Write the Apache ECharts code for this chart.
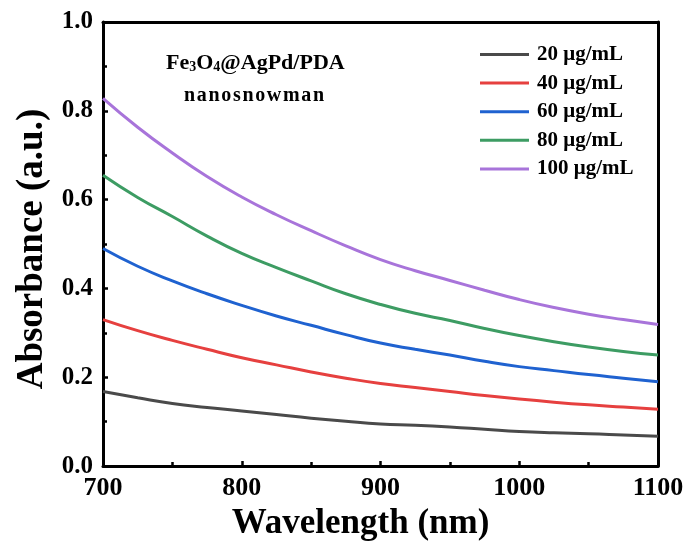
<!DOCTYPE html>
<html>
<head>
<meta charset="utf-8">
<script src="https://cdn.jsdelivr.net/npm/echarts@6/dist/echarts.min.js"></script>
<style>
html, body { margin: 0; padding: 0; background: #fff; }
#chart { width: 691px; height: 546px; }
</style>
</head>
<body>
<div id="chart"></div>
<script>
// 波长 (nm)
var wavelengths = [700, 725, 750, 775, 800, 825, 850, 875, 900, 925, 950, 975, 1000, 1025, 1050, 1075, 1100];
// 各浓度吸光度
var abs20 = [0.168, 0.154, 0.141, 0.132, 0.124, 0.116, 0.108, 0.101, 0.095, 0.092, 0.088, 0.083, 0.078, 0.075, 0.073, 0.070, 0.067];
var abs40 = [0.330, 0.305, 0.283, 0.263, 0.244, 0.228, 0.212, 0.198, 0.186, 0.177, 0.168, 0.159, 0.151, 0.144, 0.138, 0.133, 0.128];
var abs60 = [0.490, 0.450, 0.417, 0.388, 0.362, 0.338, 0.317, 0.296, 0.277, 0.263, 0.250, 0.236, 0.224, 0.215, 0.206, 0.198, 0.190];
var abs80 = [0.655, 0.605, 0.562, 0.518, 0.479, 0.447, 0.417, 0.388, 0.364, 0.344, 0.328, 0.310, 0.294, 0.280, 0.268, 0.258, 0.250];
var abs100 = [0.828, 0.763, 0.705, 0.652, 0.606, 0.566, 0.530, 0.496, 0.465, 0.440, 0.418, 0.396, 0.375, 0.357, 0.342, 0.330, 0.319];
var seriesNames = ['20 μg/mL', '40 μg/mL', '60 μg/mL', '80 μg/mL', '100 μg/mL'];
var seriesColors = ['#4a4a4a', '#e6403f', '#1f62d0', '#3d9c63', '#a874da'];

var FONT = '"Liberation Serif", "Times New Roman", serif';

function pairs(vals) {
    return wavelengths.map(function (w, i) { return [w, vals[i]]; });
}

var myChart = echarts.init(document.getElementById('chart'));
var allData = [abs20, abs40, abs60, abs80, abs100];

var option = {
    animation: false,
    backgroundColor: '#fff',
    grid: { left: 103, right: 33, top: 22, bottom: 76 },
    legend: {
        orient: 'vertical',
        left: 475,
        top: 38,
        icon: 'rect',
        itemWidth: 49,
        itemHeight: 3,
        itemGap: 5.6,
        textStyle: { fontFamily: FONT, fontWeight: 'bold', fontSize: 21, color: '#000', lineHeight: 23, padding: [0, 0, 0, 3] },
        data: seriesNames
    },
    graphic: [{
        type: 'text',
        left: 166,
        top: 52,
        style: {
            text: 'Fe{sub|3}O{sub|4}@AgPd/PDA',
            font: 'bold 22px ' + FONT,
            fill: '#000',
            rich: {
                sub: { fontSize: 14, fontWeight: 'bold', fontFamily: FONT, verticalAlign: 'bottom', padding: [9, 0, 0, 0] }
            }
        }
    }, {
        type: 'text',
        left: 184,
        top: 86,
        style: {
            // 原图字母间距较宽
            text: 'n a n o s n o w m a n'.replace(/ /g, '\u200a'),
            font: 'bold 20px ' + FONT,
            fill: '#000'
        }
    }],
    xAxis: [{
        type: 'value',
        min: 700,
        max: 1100,
        interval: 100,
        name: 'Wavelength (nm)',
        nameLocation: 'middle',
        nameGap: 36,
        nameTextStyle: { fontFamily: FONT, fontWeight: 'bold', fontSize: 35, color: '#000', padding: [0, 40, 0, 0] },
        axisLine: { onZero: false, lineStyle: { color: '#000', width: 3 } },
        axisTick: { inside: true, length: 5, lineStyle: { width: 2.5, color: '#000' } },
        minorTick: { show: true, splitNumber: 2, length: 4, lineStyle: { width: 2.5, color: '#000' } },
        axisLabel: {
            fontFamily: FONT, fontWeight: 'bold', fontSize: 26, color: '#000', margin: 9,
            formatter: function (v) { return String(v); }
        },
        splitLine: { show: false }
    }, {
        type: 'value',
        position: 'top',
        min: 700,
        max: 1100,
        axisLine: { onZero: false, lineStyle: { color: '#000', width: 3 } },
        axisTick: { show: false },
        axisLabel: { show: false },
        splitLine: { show: false }
    }],
    yAxis: [{
        type: 'value',
        min: 0,
        max: 1,
        interval: 0.2,
        name: 'Absorbance (a.u.)',
        nameLocation: 'middle',
        nameGap: 52,
        nameTextStyle: { fontFamily: FONT, fontWeight: 'bold', fontSize: 37, color: '#000', padding: [0, 10, 0, 0] },
        axisLine: { show: true, onZero: false, lineStyle: { color: '#000', width: 3 } },
        axisTick: { inside: true, length: 5, lineStyle: { width: 2.5, color: '#000' } },
        minorTick: { show: true, splitNumber: 2, length: 4, lineStyle: { width: 2.5, color: '#000' } },
        axisLabel: {
            fontFamily: FONT, fontWeight: 'bold', fontSize: 25, color: '#000', margin: 10,
            formatter: function (v) { return v.toFixed(1); }
        },
        splitLine: { show: false }
    }, {
        type: 'value',
        position: 'right',
        min: 0,
        max: 1,
        axisLine: { show: true, onZero: false, lineStyle: { color: '#000', width: 3 } },
        axisTick: { show: false },
        axisLabel: { show: false },
        splitLine: { show: false }
    }],
    series: allData.map(function (vals, i) {
        return {
            name: seriesNames[i],
            type: 'line',
            smooth: true,
            showSymbol: false,
            data: pairs(vals),
            itemStyle: { color: seriesColors[i] },
            lineStyle: { color: seriesColors[i], width: 3 }
        };
    })
};

option && myChart.setOption(option);
</script>
</body>
</html>
